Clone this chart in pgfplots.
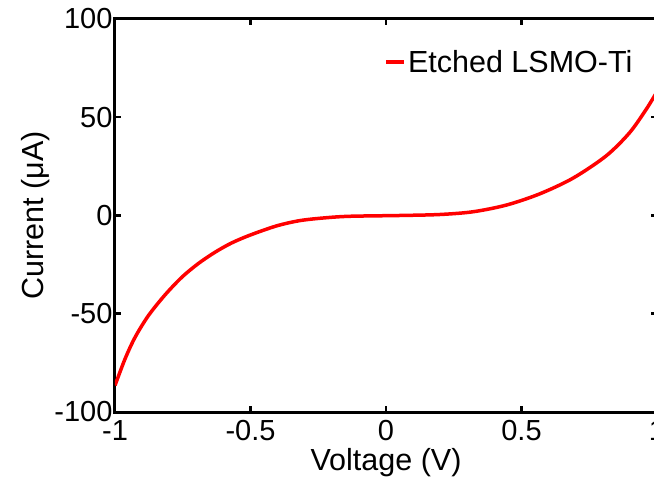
\documentclass[border=0pt]{standalone}
\usepackage{fontspec}
\setmainfont{Liberation Sans}
\usepackage{pgfplots}
\pgfplotsset{compat=1.18}
\usetikzlibrary{calc}
\begin{document}
\begin{tikzpicture}
\begin{axis}[
  scale only axis,
  width=542pt, height=393pt,
  xmin=-1, xmax=1, ymin=-100, ymax=100,
  xtick={-1,-0.5,0,0.5,1},
  ytick={-100,-50,0,50,100},
  xticklabels={-1,-0.5,0,0.5,1},
  yticklabels={-100,-50,0,50,100},
  tick align=inside,
  major tick length=6pt,
  axis line style={line width=3pt},
  every tick/.style={black, line width=2.5pt},
  tick label style={font=\fontsize{29}{31}\selectfont},
  xticklabel style={yshift=-5pt},
  yticklabel style={xshift=1pt},
  label style={font=\fontsize{30.5}{32}\selectfont},
  xlabel={Voltage (V)},
  ylabel={Current (μA)},
  xlabel style={yshift=0pt},
  ylabel style={yshift=-2pt},
  legend style={draw=none, fill=none, at={(0.497,0.8906)}, anchor=west,
    font=\fontsize{30.5}{32}\selectfont, inner sep=0pt,
    nodes={inner sep=2pt}},
  legend cell align=left,
  legend image code/.code={\draw[#1] (0pt,0pt) -- (18pt,0pt);},
]
\addplot[red, line width=3.5pt, smooth] coordinates {
  (-1.000,-86.5) (-0.963,-73.0) (-0.926,-62.0) (-0.877,-51.0)
  (-0.816,-40.5) (-0.754,-31.5) (-0.693,-24.5) (-0.631,-18.7)
  (-0.570,-14.0) (-0.502,-10.0) (-0.404,-5.3) (-0.318,-2.6)
  (-0.226,-1.2) (-0.134,-0.4) (0.050,0.0) (0.198,0.5) (0.321,1.9)
  (0.444,5.3) (0.567,11.0) (0.690,19.0) (0.812,30.3) (0.898,42.0)
  (0.960,54.0) (1.000,63.0)
};
\addlegendentry{Etched LSMO-Ti}
\end{axis}
\pgfresetboundingbox
\path ($(current axis.south west)+(-115pt,-66pt)$) rectangle ($(current axis.north east)+(-3pt,19pt)$);
\end{tikzpicture}
\end{document}
